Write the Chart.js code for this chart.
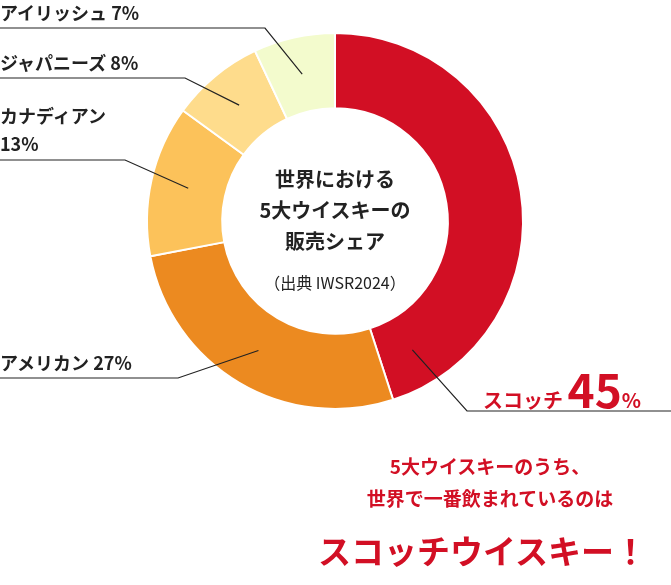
<!DOCTYPE html>
<html lang="ja">
<head>
<meta charset="UTF-8">
<title>5大ウイスキーの販売シェア</title>
<script src="https://cdn.jsdelivr.net/npm/chart.js"></script>
<style>
  html, body { margin: 0; padding: 0; background: #fff; }
  body { width: 671px; height: 585px; position: relative; overflow: hidden;
         font-family: "Noto Sans CJK JP", "Noto Sans", sans-serif; color: #222; }
  #c { position: absolute; left: 0; top: 0; }
  .lbl { position: absolute; font-weight: bold; font-size: 18px; line-height: 28px; white-space: nowrap; }
  .center { position: absolute; left: 225px; width: 220px; text-align: center; font-weight: bold; font-size: 20px; line-height: 31px; }
  .red { color: #d20f24; }
</style>
</head>
<body>
<canvas id="c" width="671" height="585"></canvas>

<div class="lbl" style="left:0;top:-2px">アイリッシュ 7%</div>
<div class="lbl" style="left:0;top:48px">ジャパニーズ 8%</div>
<div class="lbl" style="left:0;top:101px">カナディアン<br>13%</div>
<div class="lbl" style="left:0;top:348px">アメリカン 27%</div>
<div class="lbl red" style="left:483px;top:368px;font-size:20px">スコッチ <span style="font-size:46px;line-height:40px">45</span><span style="font-size:20px">%</span></div>

<div class="center" style="top:163px">世界における<br>5大ウイスキーの<br>販売シェア</div>
<div class="center" style="top:272px;font-weight:normal;font-size:16px;line-height:20px">（出典 IWSR2024）</div>

<div class="lbl red" style="left:300px;top:450px;width:380px;text-align:center;font-size:19px;line-height:32px">5大ウイスキーのうち、<br>世界で一番飲まれているのは</div>
<div class="lbl red" style="left:300px;top:528px;width:365px;text-align:center;font-size:33px;line-height:44px">スコッチウイスキー！</div>

<script>
const categories = ["スコッチ", "アメリカン", "カナディアン", "ジャパニーズ", "アイリッシュ"];
const shares = [45, 27, 13, 8, 7];
const colors = ["#d20f24", "#ec8a20", "#fcc25a", "#fedc8c", "#f3fbcd"];
// where along each slice the leader starts (0 = start, 1 = end)
const leaderAt = [0.92, 0.5, 0.5, 0.5, 0.5];
// where each leader line meets its label: [elbow x, elbow y, end x]
const leaders = [
  [467, 411, 671],
  [178, 378, 0],
  [125, 160, 0],
  [185, 78, 0],
  [265, 28, 0]
];

const leaderPlugin = {
  id: "leaders",
  afterDatasetsDraw(chart) {
    const ctx = chart.ctx;
    const arcs = chart.getDatasetMeta(0).data;
    ctx.save();
    ctx.strokeStyle = "#222";
    ctx.lineWidth = 1.2;
    arcs.forEach((arc, i) => {
      const p = arc.getProps(["x", "y", "startAngle", "endAngle", "innerRadius", "outerRadius"], true);
      const a = p.startAngle + (p.endAngle - p.startAngle) * leaderAt[i];
      const r = (p.innerRadius + p.outerRadius) / 2;
      const [ex, ey, hx] = leaders[i];
      ctx.beginPath();
      ctx.moveTo(p.x + Math.cos(a) * r, p.y + Math.sin(a) * r);
      ctx.lineTo(ex, ey);
      ctx.lineTo(hx, ey);
      ctx.stroke();
    });
    ctx.restore();
  }
};

new Chart(document.getElementById("c"), {
  type: "doughnut",
  data: {
    labels: categories,
    datasets: [{ data: shares, backgroundColor: colors, borderColor: "#fff", borderWidth: 2 }]
  },
  options: {
    responsive: false,
    animation: false,
    cutout: "60%",
    layout: { padding: { left: 145, right: 146, top: 32, bottom: 175 } },
    plugins: { legend: { display: false }, tooltip: { enabled: false } }
  },
  plugins: [leaderPlugin]
});
</script>
</body>
</html>
